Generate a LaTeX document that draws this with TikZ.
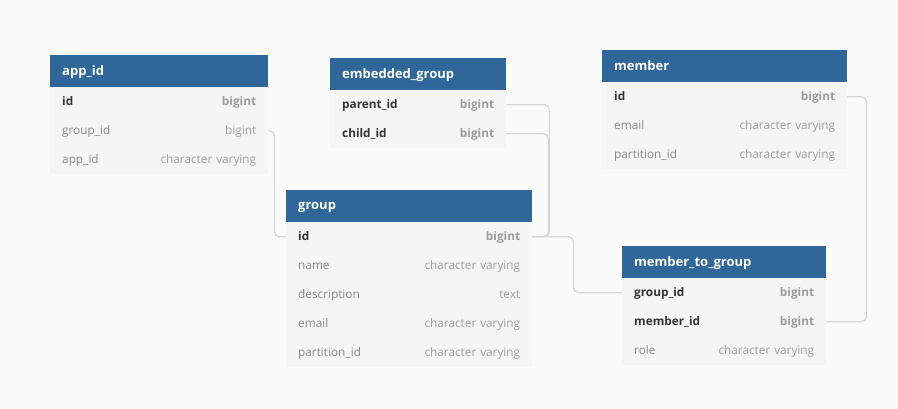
\documentclass[tikz,border=0pt]{standalone}
\usepackage{fontspec}
\setmainfont{Open Sans}
\usepackage{tikz}
\usetikzlibrary{positioning}
\definecolor{pagebg}{HTML}{FAFAFA}
\definecolor{headbg}{HTML}{30679A}
\definecolor{rowbg}{HTML}{F5F5F5}
\definecolor{linkline}{HTML}{D6D6D6}
\definecolor{keytext}{HTML}{333333}
\definecolor{keytype}{HTML}{9C9C9C}
\definecolor{fieldtext}{HTML}{888888}
\newcommand{\keyrow}[2]{\textcolor{keytext}{\bfseries #1}\hfill\textcolor{keytype}{\bfseries #2}}
\newcommand{\fieldrow}[2]{\textcolor{fieldtext}{#1}\hfill\textcolor{keytype}{#2}}
\tikzset{
  tblhead/.style={fill=headbg, text=white, anchor=north west, minimum height=32pt,
                  inner xsep=12pt, inner ysep=0pt, font=\fontsize{13}{15}\selectfont\bfseries,
                  align=left, text depth=1pt},
  tblrow/.style={fill=rowbg, anchor=north west, minimum height=29pt,
                 inner xsep=12pt, inner ysep=0pt, font=\fontsize{11.8}{13}\selectfont,
                 text depth=1pt},
  link/.style={draw=linkline, line width=1.2pt, rounded corners=5pt},
}

\begin{document}
\begin{tikzpicture}[x=1pt, y=-1pt]
  \useasboundingbox[fill=pagebg] (0,0) rectangle (898,409);

  % app_id
  \node[tblhead, text width=194pt] (app) at (50,55) {app\_id};
  \node[tblrow, text width=194pt] (app-id) at (50,87) {\keyrow{id}{bigint}};
  \node[tblrow, text width=194pt] (app-group) at (50,116) {\fieldrow{group\_id}{bigint}};
  \node[tblrow, text width=194pt] (app-app) at (50,145) {\fieldrow{app\_id}{character varying}};

  % embedded_group
  \node[tblhead, text width=152pt] (eg) at (330,58) {embedded\_group};
  \node[tblrow, text width=152pt] (eg-parent) at (330,90) {\keyrow{parent\_id}{bigint}};
  \node[tblrow, text width=152pt] (eg-child) at (330,119) {\keyrow{child\_id}{bigint}};

  % member
  \node[tblhead, text width=221pt] (mem) at (602,50) {member};
  \node[tblrow, text width=221pt] (mem-id) at (602,82) {\keyrow{id}{bigint}};
  \node[tblrow, text width=221pt] (mem-email) at (602,111) {\fieldrow{email}{character varying}};
  \node[tblrow, text width=221pt] (mem-part) at (602,140) {\fieldrow{partition\_id}{character varying}};

  % group
  \node[tblhead, text width=222pt] (grp) at (286,190) {group};
  \node[tblrow, text width=222pt] (grp-id) at (286,222) {\keyrow{id}{bigint}};
  \node[tblrow, text width=222pt] (grp-name) at (286,251) {\fieldrow{name}{character varying}};
  \node[tblrow, text width=222pt] (grp-desc) at (286,280) {\fieldrow{description}{text}};
  \node[tblrow, text width=222pt] (grp-email) at (286,309) {\fieldrow{email}{character varying}};
  \node[tblrow, text width=222pt] (grp-part) at (286,338) {\fieldrow{partition\_id}{character varying}};

  % member_to_group
  \node[tblhead, text width=180pt] (mtg) at (622,246) {member\_to\_group};
  \node[tblrow, text width=180pt] (mtg-group) at (622,278) {\keyrow{group\_id}{bigint}};
  \node[tblrow, text width=180pt] (mtg-member) at (622,307) {\keyrow{member\_id}{bigint}};
  \node[tblrow, text width=180pt] (mtg-role) at (622,336) {\fieldrow{role}{character varying}};

  % references
  \draw[link] (app-group.east) -- ++(6,0) |- (grp-id.west);
  \draw[link] (eg-parent.east) -- ++(43,0) |- (grp-id.east);
  \draw[link] (eg-child.east) -- ++(42,0) |- (grp-id.east);
  \draw[link] (grp-id.east) -- ++(41,0) |- (mtg-group.west);
  \draw[link] (mem-id.east) -- ++(19,0) |- (mtg-member.east);
\end{tikzpicture}
\end{document}
